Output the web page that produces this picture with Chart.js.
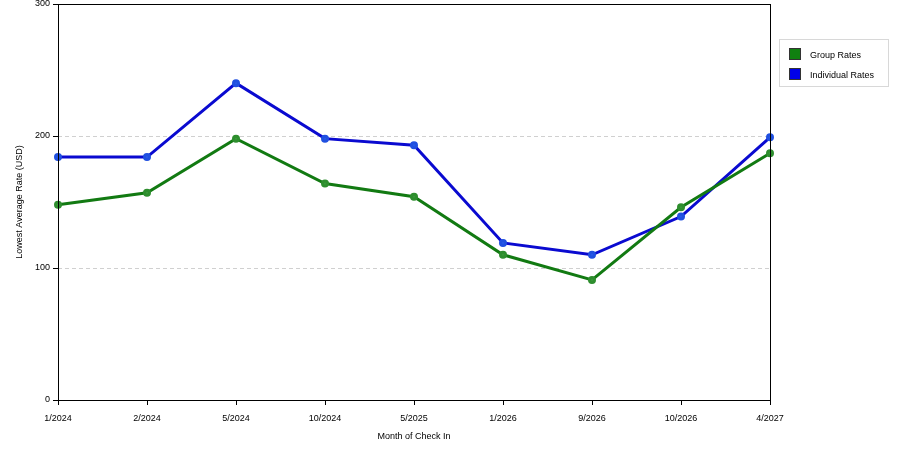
<!DOCTYPE html>
<html>
<head>
<meta charset="utf-8">
<script src="https://cdn.jsdelivr.net/npm/chart.js@4.4.0/dist/chart.umd.min.js"></script>
<style>
  body { margin: 0; background: #fff; }
  #wrap { position: relative; width: 900px; height: 450px; }
  #legend {
    position: absolute; left: 779px; top: 39px; width: 108px; height: 46px;
    border: 1px solid #d8d8d8; font: 9px "Liberation Sans", Arial, sans-serif; color: #000;
  }
  .item { position: absolute; left: 9px; height: 12px; line-height: 12px; }
  .sw { position: absolute; left: 0; top: 0; width: 10px; height: 10px; border: 1px solid #333; }
  .lbl { position: absolute; left: 21px; top: 1px; white-space: nowrap; }
</style>
</head>
<body>
<div id="wrap">
  <canvas id="rateChart" width="900" height="450"></canvas>
  <div id="legend"></div>
</div>
<script>
const months = ["1/2024", "2/2024", "5/2024", "10/2024", "5/2025", "1/2026", "9/2026", "10/2026", "4/2027"];
const groupRates = [148, 157, 198, 164, 154, 110, 91, 146, 187];
const individualRates = [184, 184, 240, 198, 193, 119, 110, 139, 199];
const yTicks = [0, 100, 200, 300];

const GREEN = "#127a12";
const BLUE = "#0a0ad0";
const FONT = { family: "'Liberation Sans', Arial, sans-serif", size: 9 };

// legend drawn as html to get the boxed look
const legendItems = [
  { label: "Group Rates", color: "#108010" },
  { label: "Individual Rates", color: "#0000e8" }
];
const legendEl = document.getElementById("legend");
legendItems.forEach((it, i) => {
  const row = document.createElement("div");
  row.className = "item";
  row.style.top = (8 + i * 20) + "px";
  row.innerHTML = '<span class="sw" style="background:' + it.color + '"></span><span class="lbl">' + it.label + '</span>';
  legendEl.appendChild(row);
});

const frame = {
  id: "frame",
  afterDraw(chart) {
    const { ctx, chartArea: a } = chart;
    ctx.save();
    ctx.strokeStyle = "#000";
    ctx.lineWidth = 1;
    ctx.strokeRect(Math.round(a.left) + 0.5, Math.round(a.top) + 0.5,
      Math.round(a.right - a.left), Math.round(a.bottom - a.top));
    ctx.restore();
  }
};

new Chart(document.getElementById("rateChart"), {
  type: "line",
  data: {
    labels: months,
    datasets: [
      {
        label: "Group Rates",
        data: groupRates,
        borderColor: GREEN,
        backgroundColor: "#3a9a3a",
        pointBorderColor: "#2e8e2e",
        borderWidth: 3,
        pointRadius: 2.5,
        tension: 0,
        fill: false
      },
      {
        label: "Individual Rates",
        data: individualRates,
        borderColor: BLUE,
        backgroundColor: "#2a5ae8",
        pointBorderColor: "#2050e0",
        borderWidth: 3,
        pointRadius: 2.5,
        tension: 0,
        fill: false
      }
    ]
  },
  options: {
    responsive: false,
    animation: false,
    layout: { autoPadding: false, padding: { left: 0, right: 130, top: 4, bottom: 0 } },
    plugins: { legend: { display: false }, tooltip: { enabled: false } },
    scales: {
      x: {
        offset: false,
        grid: { color: "rgba(0,0,0,0)", tickColor: "#000", tickLength: 5, drawOnChartArea: false },
        border: { display: false },
        ticks: { color: "#000", font: FONT, maxRotation: 0, autoSkip: false, padding: 8 },
        title: { display: true, text: "Month of Check In", color: "#000", font: FONT, padding: { top: 7, bottom: 8 } },
        afterFit(scale) { scale.height = 50; }
      },
      y: {
        min: 0,
        max: 300,
        afterBuildTicks(scale) { scale.ticks = yTicks.map(v => ({ value: v })); },
        grid: {
          color: ctx => (ctx.tick && (ctx.tick.value === 0 || ctx.tick.value === 300)) ? "rgba(0,0,0,0)" : "#d0d0d0",
          tickColor: "#000",
          tickLength: 5
        },
        border: { display: false, dash: [4, 3] },
        ticks: { color: "#000", font: FONT, padding: 3 },
        title: { display: true, text: "Lowest Average Rate (USD)", color: "#000", font: FONT, padding: { top: 14, bottom: 0 } },
        afterFit(scale) {
          scale.width = 58;
          scale.paddingTop = 0;
          scale.paddingBottom = 0;
        }
      }
    }
  },
  plugins: [frame]
});
</script>
</body>
</html>
